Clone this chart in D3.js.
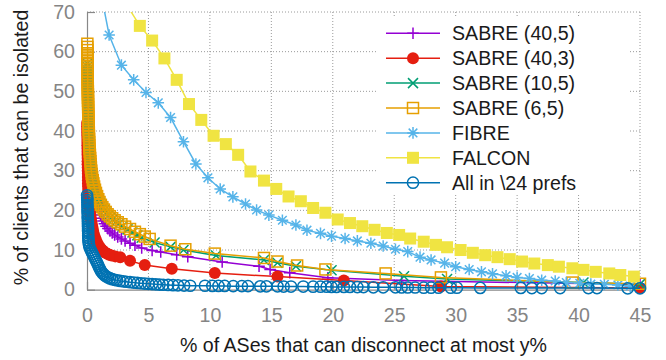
<!DOCTYPE html>
<html>
<head>
<meta charset="utf-8">
<script src="https://cdn.jsdelivr.net/npm/d3@7"></script>
<style>
  html, body { margin: 0; padding: 0; background: #fff; }
  svg { display: block; }
  text { font-family: "Liberation Sans", Arial, sans-serif; }
</style>
</head>
<body>
<svg id="chart" width="666" height="360"></svg>
<script>
// ---- Data ----
const xTicks = [0, 5, 10, 15, 20, 25, 30, 35, 40, 45];
const yTicks = [0, 10, 20, 30, 40, 50, 60, 70];

const seriesNames = ["SABRE (40,5)", "SABRE (40,3)", "SABRE (10,5)", "SABRE (6,5)", "FIBRE", "FALCON", "All in \\24 prefs"];
const seriesColors = ["#9400d3", "#e51e10", "#009e73", "#e69f00", "#56b4e9", "#f0e442", "#0072b2"];
const seriesMarkers = ["plus", "filledCircle", "cross", "openSquare", "star", "filledSquare", "openCircle"];

const sabre405X = [0.03,0.035,0.04,0.045,0.05,0.055,0.06,0.065,0.07,0.075,0.08,0.085,0.09,0.1,0.11,0.12,0.13,0.14,0.15,0.16,0.17,0.18,0.19,0.2,0.22,0.24,0.26,0.28,0.3,0.33,0.36,0.39,0.42,0.46,0.5,0.55,0.6,0.65,0.7,0.76,0.82,0.88,0.95,1.02,1.1,1.2,1.3,1.42,1.55,1.7,1.87,2.05,2.25,2.5,2.8,3.1,3.5,3.9,4.45,5.3,6.0,7.3,8.2,11.0,14.0,14.9,16.5,19.6,25.6,45];
const sabre405Y = [54,53.2,52.4,51.6,50.8,50,49.2,48.4,47.6,46.8,46,45.2,44.4,43.6,42.8,42,41.2,40.4,39.6,38.8,38,37.2,36.4,35.6,34.8,34,33.2,32.4,31.6,30.8,30,29.2,28.4,27.6,26.8,26,25.2,24.4,23.6,22.8,22,21.2,20.4,19.6,18.8,18.0,17.3,16.6,16.0,15.4,14.8,14.3,13.8,13.3,12.8,12.3,11.7,11.2,10.5,9.9,9.5,8.8,8.3,7.0,5.9,5.1,4.3,3.0,2.3,1.3];

const sabre403X = [0.01,0.01,0.02,0.02,0.02,0.03,0.03,0.03,0.04,0.04,0.04,0.05,0.05,0.05,0.06,0.06,0.07,0.07,0.08,0.08,0.09,0.1,0.11,0.12,0.14,0.16,0.18,0.21,0.24,0.27,0.31,0.35,0.4,0.45,0.5,0.56,0.63,0.7,0.78,0.87,0.96,1.06,1.17,1.3,1.45,1.62,1.8,2.0,2.3,2.7,3.5,4.7,6.9,10.4,15.5,20.9,28.8,45];
const sabre403Y = [42,41.2,40.4,39.6,38.8,38,37.2,36.4,35.6,34.8,34,33.2,32.4,31.6,30.8,30,29.2,28.4,27.6,26.8,26,25.2,24.4,23.6,22.8,22,21.2,20.4,19.6,18.8,18,17.2,16.4,15.6,14.8,14.0,13.3,12.7,12.1,11.5,11.0,10.6,10.2,9.8,9.4,9.1,8.8,8.6,8.4,8.2,7.3,6.2,5.3,4.2,3.3,2.3,0.8,0.4];

const sabre105X = [0.03,0.035,0.04,0.04,0.045,0.05,0.05,0.055,0.06,0.065,0.07,0.075,0.08,0.085,0.09,0.095,0.1,0.105,0.11,0.12,0.13,0.14,0.15,0.16,0.17,0.18,0.19,0.2,0.22,0.24,0.26,0.28,0.3,0.33,0.36,0.4,0.44,0.49,0.54,0.6,0.67,0.75,0.84,0.94,1.04,1.15,1.27,1.4,1.55,1.72,1.9,2.1,2.35,2.6,2.9,3.3,3.7,4.1,4.45,5.5,6.8,7.85,10.5,14.4,15.5,17.0,19.9,25.8,29.3,40.4,45];
const sabre105Y = [57,56.2,55.4,54.6,53.8,53,52.2,51.4,50.6,49.8,49,48.2,47.4,46.6,45.8,45,44.2,43.4,42.6,41.8,41,40.2,39.4,38.6,37.8,37,36.2,35.4,34.6,33.8,33,32.2,31.4,30.6,29.8,29,28.2,27.4,26.6,25.8,25,24.2,23.4,22.6,21.9,21.2,20.6,20.0,19.4,18.8,18.2,17.7,17.1,16.6,16.0,15.2,14.4,13.7,13.1,11.9,10.8,10.0,8.6,7.5,6.8,5.9,4.9,3.4,2.7,1.8,1.4];

const sabre65X = [0.03,0.03,0.035,0.035,0.04,0.04,0.045,0.045,0.05,0.05,0.055,0.055,0.06,0.06,0.065,0.07,0.075,0.08,0.085,0.09,0.095,0.1,0.105,0.11,0.115,0.12,0.13,0.14,0.15,0.16,0.17,0.18,0.19,0.2,0.22,0.24,0.26,0.28,0.3,0.32,0.35,0.38,0.42,0.47,0.52,0.58,0.65,0.73,0.82,0.92,1.02,1.13,1.25,1.38,1.52,1.68,1.86,2.05,2.25,2.5,2.8,3.1,3.5,3.9,4.3,4.7,5.1,6.8,8.0,10.4,14.4,15.5,17.1,19.4,24.3,28.8,39.5,45];
const sabre65Y = [62,61.2,60.4,59.6,58.8,58,57.2,56.4,55.6,54.8,54,53.2,52.4,51.6,50.8,50,49.2,48.4,47.6,46.8,46,45.2,44.4,43.6,42.8,42,41.2,40.4,39.6,38.8,38,37.2,36.4,35.6,34.8,34,33.2,32.4,31.6,30.8,30,29.2,28.4,27.6,26.8,26,25.2,24.4,23.6,22.8,22.1,21.4,20.8,20.2,19.6,19.0,18.5,18.0,17.5,17.0,16.5,15.9,15.3,14.6,14.0,13.4,12.8,11.1,10.2,9.1,8.0,7.1,6.1,5.1,4.1,3.1,1.8,1.5];

const fibreX = [0.8,1.8,2.8,3.8,4.8,5.8,6.8,7.85,8.86,9.84,10.84,11.87,12.9,13.8,14.8,15.9,17.0,17.9,19.0,19.9,21.0,22.0,23.1,24.1,25.1,26.1,27.1,28.0,29.1,30.0,31.1,32.1,33.0,34.1,35.0,36.0,37.0,38.1,39.0,40.1,41.0,42.1,43.2,44.2];
const fibreY = [80,64.2,56.6,52.9,49.7,47.1,43.4,37.3,31.7,28.2,25.4,23.4,21.6,20.1,18.8,17.5,16.3,15.0,14.2,13.5,12.9,12.3,11.7,11.0,10.2,9.6,8.2,7.5,6.7,5.8,5.1,4.5,4.0,3.5,3.1,2.8,2.4,2.2,1.8,1.6,1.4,1.35,1.2,0.9];

const falconX = [3.3,4.3,5.3,6.3,7.3,8.3,9.3,10.3,11.3,12.3,13.3,14.4,15.4,16.4,17.4,18.4,19.4,20.4,21.4,22.4,23.4,24.4,25.4,26.3,27.4,28.4,29.3,30.4,31.4,32.4,33.4,34.4,35.4,36.4,37.5,38.4,39.5,40.4,41.4,42.5,43.4,44.5];
const falconY = [71.5,66.5,62.8,58.3,52.9,46.8,42.8,38.8,36.7,34.0,29.8,27.5,25.4,23.5,22.3,20.6,19.4,17.7,16.8,16.0,15.1,14.3,13.8,12.9,12.1,11.3,10.7,10.0,9.3,8.7,8.2,7.7,7.1,6.6,6.2,5.8,5.4,5.0,4.5,4.1,3.7,3.3];

const all24X = [0.01,0.02,0.03,0.03,0.04,0.04,0.05,0.05,0.06,0.06,0.07,0.07,0.08,0.08,0.09,0.09,0.1,0.1,0.11,0.12,0.14,0.17,0.22,0.3,0.38,0.46,0.54,0.62,0.7,0.78,0.86,0.93,1.0,1.08,1.16,1.25,1.35,1.45,1.58,1.72,1.88,2.05,2.25,2.45,2.7,2.95,3.2,3.5,3.8,4.1,4.4,4.7,5.0,5.3,5.6,5.9,6.2,6.6,7.0,7.4,7.9,8.4,9.6,10.2,10.7,11.2,11.9,12.6,13.1,14.1,14.6,15.5,16.0,16.6,17.6,18.4,19.0,19.5,19.9,20.3,20.9,21.4,22.0,22.5,23.3,24.1,25.1,25.6,26.1,26.7,27.4,28.0,28.6,29.6,30.1,32.0,35.3,36.2,37.0,38.5,40.8,41.5,44.0,45];
const all24Y = [23.8,23.2,22.6,22.0,21.4,20.8,20.2,19.6,19.0,18.4,17.8,17.2,16.6,16.0,15.4,14.8,14.2,13.6,13.0,12.4,11.8,11.2,10.6,10.0,9.5,9.0,8.5,8.0,7.5,7.0,6.5,6.0,5.5,5.0,4.6,4.2,3.9,3.6,3.3,3.05,2.85,2.65,2.5,2.35,2.2,2.1,2.0,1.9,1.8,1.7,1.62,1.55,1.48,1.42,1.36,1.3,1.25,1.2,1.15,1.1,1.05,1.0,1.0,0.95,0.95,0.95,0.9,0.9,0.9,0.85,0.85,0.85,0.8,0.8,0.8,0.75,0.75,0.75,0.7,0.7,0.7,0.7,0.65,0.65,0.6,0.6,0.6,0.55,0.55,0.55,0.5,0.5,0.5,0.5,0.5,0.45,0.45,0.4,0.4,0.4,0.4,0.4,0.35,0.35];

const seriesX = [sabre405X, sabre403X, sabre105X, sabre65X, fibreX, falconX, all24X];
const seriesY = [sabre405Y, sabre403Y, sabre105Y, sabre65Y, fibreY, falconY, all24Y];

// ---- Layout ----
const svg = d3.select("#chart");
const pLeft = 87, pRight = 640, pTop = 12, pBottom = 289.7;
const x = d3.scaleLinear().domain([0, 45]).range([pLeft, pRight]);
const y = d3.scaleLinear().domain([0, 70]).range([pBottom, pTop]);
const fontSize = 19.6;
const axisGray = "#888";
const sw = 1.5;

// grid
const grid = svg.append("g").attr("stroke", "#9a9a9a").attr("stroke-width", 1).attr("stroke-dasharray", "1,2");
xTicks.filter(t => t !== 0).forEach(t => {
  grid.append("line").attr("x1", x(t)).attr("x2", x(t)).attr("y1", pTop).attr("y2", pBottom);
});
yTicks.filter(t => t !== 0).forEach(t => {
  grid.append("line").attr("x1", pLeft).attr("x2", pRight).attr("y1", y(t)).attr("y2", y(t));
});

// axes
const yAxis = svg.append("g").attr("transform", `translate(${pLeft},0)`)
  .call(d3.axisLeft(y).tickValues(yTicks).tickSizeInner(-8).tickSizeOuter(0).tickPadding(12));
const xAxis = svg.append("g").attr("transform", `translate(0,${pBottom})`)
  .call(d3.axisBottom(x).tickValues(xTicks).tickSizeInner(-8).tickSizeOuter(0).tickPadding(18));
[yAxis, xAxis].forEach(a => {
  a.select(".domain").attr("stroke", axisGray).attr("stroke-width", 1.2);
  a.selectAll(".tick line").attr("stroke", axisGray).attr("stroke-width", 1.2);
  a.selectAll(".tick text").attr("fill", "#858585").attr("font-size", fontSize)
    .attr("font-family", "'Liberation Sans', Arial, sans-serif");
});

// clip for lines
svg.append("clipPath").attr("id", "plotclip")
  .append("rect").attr("x", pLeft).attr("y", pTop).attr("width", pRight - pLeft).attr("height", pBottom - pTop);

// marker drawing
function drawMarker(g, type, cx, cy, color) {
  const s = 5.8;
  if (type === "plus") {
    g.append("path").attr("d", `M${cx - s},${cy}H${cx + s}M${cx},${cy - s}V${cy + s}`)
      .attr("stroke", color).attr("stroke-width", sw).attr("fill", "none");
  } else if (type === "cross") {
    const c = 5;
    g.append("path").attr("d", `M${cx - c},${cy - c}L${cx + c},${cy + c}M${cx - c},${cy + c}L${cx + c},${cy - c}`)
      .attr("stroke", color).attr("stroke-width", sw).attr("fill", "none");
  } else if (type === "star") {
    const c = 4.3;
    g.append("path").attr("d", `M${cx - s},${cy}H${cx + s}M${cx},${cy - s}V${cy + s}M${cx - c},${cy - c}L${cx + c},${cy + c}M${cx - c},${cy + c}L${cx + c},${cy - c}`)
      .attr("stroke", color).attr("stroke-width", sw).attr("fill", "none");
  } else if (type === "openSquare") {
    g.append("rect").attr("x", cx - 5.5).attr("y", cy - 5.5).attr("width", 11).attr("height", 11)
      .attr("stroke", color).attr("stroke-width", sw).attr("fill", "none");
  } else if (type === "filledSquare") {
    g.append("rect").attr("x", cx - 6).attr("y", cy - 6).attr("width", 12).attr("height", 12)
      .attr("fill", color);
  } else if (type === "openCircle") {
    g.append("circle").attr("cx", cx).attr("cy", cy).attr("r", 5.6)
      .attr("stroke", color).attr("stroke-width", sw).attr("fill", "none");
  } else if (type === "filledCircle") {
    g.append("circle").attr("cx", cx).attr("cy", cy).attr("r", 6).attr("fill", color);
  }
}

const line = d3.line().x(d => x(d[0])).y(d => y(d[1]));

seriesNames.forEach((name, i) => {
  const pts = seriesX[i].map((xv, j) => [xv, seriesY[i][j]]);
  const g = svg.append("g");
  g.append("path").datum(pts).attr("d", line)
    .attr("clip-path", "url(#plotclip)")
    .attr("fill", "none").attr("stroke", seriesColors[i]).attr("stroke-width", sw);
  pts.filter(p => p[1] <= 70 && p[0] <= 45).forEach(p => drawMarker(g, seriesMarkers[i], x(p[0]), y(p[1]), seriesColors[i]));
});

// legend
const lg = svg.append("g");
lg.append("rect").attr("x", 376).attr("y", 17).attr("width", 252).attr("height", 178).attr("fill", "#fff");
seriesNames.forEach((name, i) => {
  const ry = 33.3 + i * 24.9;
  lg.append("line").attr("x1", 386).attr("x2", 440).attr("y1", ry).attr("y2", ry)
    .attr("stroke", seriesColors[i]).attr("stroke-width", sw);
  drawMarker(lg, seriesMarkers[i], 413, ry, seriesColors[i]);
  lg.append("text").attr("x", 452).attr("y", ry).attr("dy", "0.36em")
    .attr("font-size", fontSize).attr("fill", "#1a1a1a").text(name);
});

// axis titles
svg.append("text").attr("x", 363.5).attr("y", 351.5).attr("text-anchor", "middle")
  .attr("font-size", fontSize).attr("fill", "#1a1a1a").text("% of ASes that can disconnect at most y%");
svg.append("text").attr("transform", "translate(27.5,147.5) rotate(-90)").attr("text-anchor", "middle")
  .attr("font-size", fontSize).attr("fill", "#1a1a1a").text("% of clients that can be isolated");
</script>
</body>
</html>
